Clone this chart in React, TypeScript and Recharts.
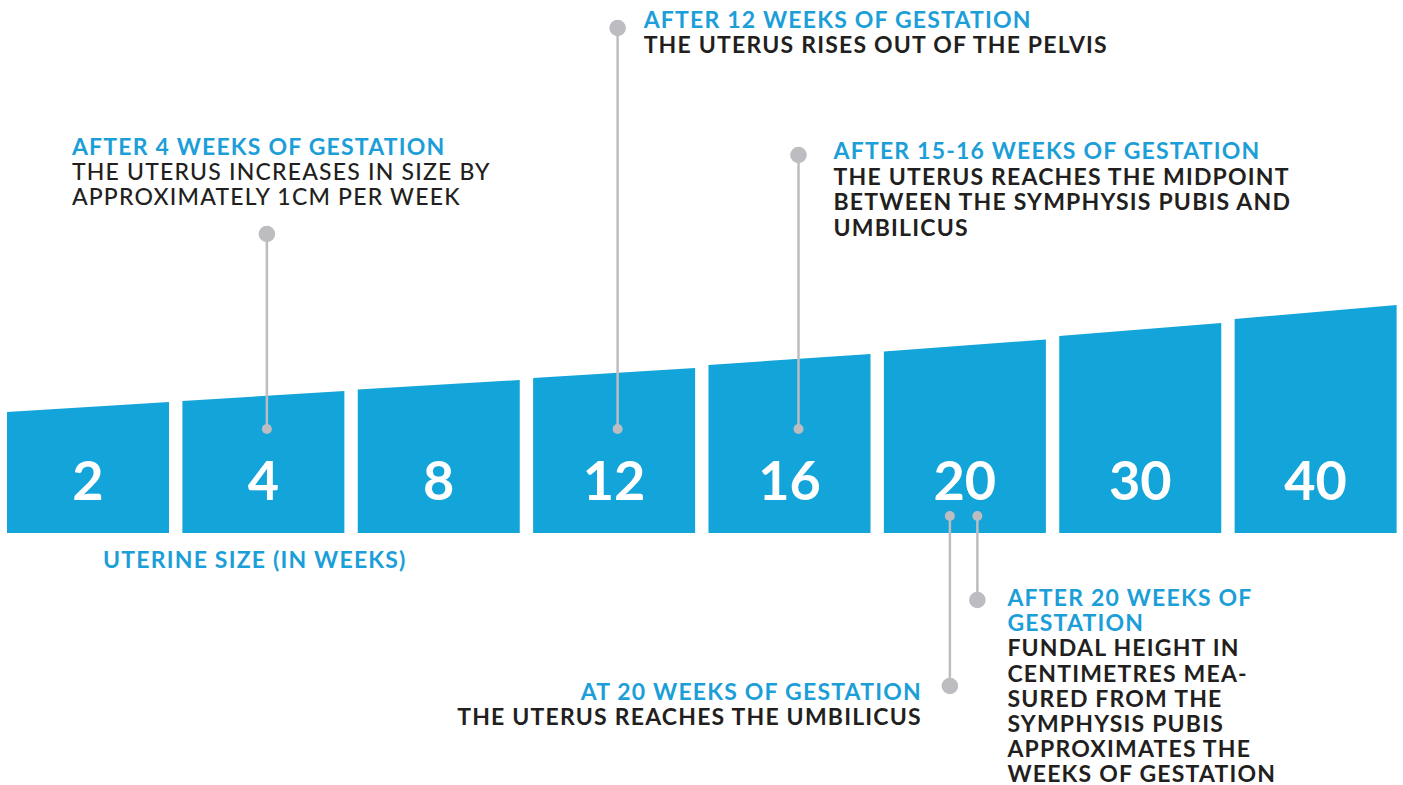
import { BarChart, Bar, XAxis, YAxis, Customized } from 'recharts';

// uterine size categories (weeks) and the slanted bar heights (left / right edge)
const weeks = ['2', '4', '8', '12', '16', '20', '30', '40'];
const leftHeights = [121, 132, 143.5, 155, 168, 181.5, 197, 214];
const rightHeights = [131, 142, 153, 165, 179, 193.5, 210, 228];

const data = weeks.map((w, i) => ({ week: w, left: leftHeights[i], right: rightHeights[i] }));

const BLUE = '#13a4d9';
const HEAD = '#1c9ed8';
const DARK = '#231f20';
const GREY = '#bdbdc1';
const FONT = 'Lato, "Open Sans", sans-serif';
const TEXT_SIZE = 23;
const SPACING = 1.2;

type Note = {
  week: string;
  dx: number; // connector offset from bar centre
  topY: number;
  bottomY: number;
  bigAtTop: boolean;
  textDx: number;
  anchor: 'start' | 'end';
  baseline: number;
  lineGap: number;
  heading: string[];
  body: string[];
  bodyWeight?: number;
};

const notes: Note[] = [
  {
    week: '4', dx: 3.5, topY: 234, bottomY: 429, bigAtTop: true,
    textDx: -195, anchor: 'start', baseline: 155, lineGap: 25,
    heading: ['AFTER 4 WEEKS OF GESTATION'],
    body: ['THE UTERUS INCREASES IN SIZE BY', 'APPROXIMATELY 1CM PER WEEK'],
    bodyWeight: 500,
  },
  {
    week: '12', dx: 3.5, topY: 28, bottomY: 429, bigAtTop: true,
    textDx: 26, anchor: 'start', baseline: 28, lineGap: 25,
    heading: ['AFTER 12 WEEKS OF GESTATION'],
    body: ['THE UTERUS RISES OUT OF THE PELVIS'],
  },
  {
    week: '16', dx: 9, topY: 155, bottomY: 429, bigAtTop: true,
    textDx: 35, anchor: 'start', baseline: 159, lineGap: 25.5,
    heading: ['AFTER 15-16 WEEKS OF GESTATION'],
    body: ['THE UTERUS REACHES THE MIDPOINT', 'BETWEEN THE SYMPHYSIS PUBIS AND', 'UMBILICUS'],
  },
  {
    week: '20', dx: -15, topY: 516, bottomY: 686, bigAtTop: false,
    textDx: -28, anchor: 'end', baseline: 700, lineGap: 25,
    heading: ['AT 20 WEEKS OF GESTATION'],
    body: ['THE UTERUS REACHES THE UMBILICUS'],
  },
  {
    week: '20', dx: 12.5, topY: 516, bottomY: 600, bigAtTop: false,
    textDx: 30, anchor: 'start', baseline: 606, lineGap: 25.2,
    heading: ['AFTER 20 WEEKS OF', 'GESTATION'],
    body: [
      'FUNDAL HEIGHT IN',
      'CENTIMETRES MEA-',
      'SURED FROM THE',
      'SYMPHYSIS PUBIS',
      'APPROXIMATES THE',
      'WEEKS OF GESTATION',
    ],
  },
];

const SlantBar = (props: any) => {
  const { x, y, width, height, payload } = props;
  const bottom = y + height;
  const leftY = bottom - (height * payload.left) / payload.right;
  const cx = x + width / 2;
  const mine = notes.filter((n) => n.week === payload.week);
  return (
    <g>
      <path d={`M${x},${bottom} L${x},${leftY} L${x + width},${y} L${x + width},${bottom} Z`} fill={BLUE} />
      <text
        x={cx}
        y={bottom - 33}
        textAnchor="middle"
        fill="#fff"
        fontFamily={FONT}
        fontWeight={700}
        fontSize={54}
      >
        {payload.week}
      </text>
      {mine.map((n, k) => {
        const lx = cx + n.dx;
        const tx = lx + n.textDx;
        const lines = [
          ...n.heading.map((t) => ({ t, c: HEAD, w: 700 })),
          ...n.body.map((t) => ({ t, c: DARK, w: n.bodyWeight ?? 700 })),
        ];
        return (
          <g key={k}>
            <line x1={lx} x2={lx} y1={n.topY} y2={n.bottomY} stroke={GREY} strokeWidth={2.5} />
            <circle cx={lx} cy={n.topY} r={n.bigAtTop ? 8.3 : 5} fill={GREY} />
            <circle cx={lx} cy={n.bottomY} r={n.bigAtTop ? 5 : 8.3} fill={GREY} />
            <text
              fontFamily={FONT}
              fontSize={TEXT_SIZE}
              letterSpacing={SPACING}
              textAnchor={n.anchor}
            >
              {lines.map((l, j) => (
                <tspan key={j} x={tx} y={n.baseline + j * n.lineGap} fill={l.c} fontWeight={l.w}>
                  {l.t}
                </tspan>
              ))}
            </text>
          </g>
        );
      })}
    </g>
  );
};

const AxisTitle = () => (
  <text
    x={103}
    y={568}
    fill={HEAD}
    fontFamily={FONT}
    fontWeight={700}
    fontSize={TEXT_SIZE}
    letterSpacing={SPACING}
  >
    UTERINE SIZE (IN WEEKS)
  </text>
);

export default function App() {
  return (
    <div style={{ position: 'absolute', left: 0, top: 0, width: 1403, height: 785, background: '#fff' }}>
      <BarChart
        width={1403}
        height={785}
        data={data}
        margin={{ top: 293, right: 0, bottom: 252, left: 0 }}
      >
        <XAxis dataKey="week" hide />
        <YAxis hide domain={[0, 240]} />
        <Bar dataKey="right" barSize={162} shape={SlantBar} isAnimationActive={false} />
        <Customized component={<AxisTitle />} />
      </BarChart>
    </div>
  );
}
